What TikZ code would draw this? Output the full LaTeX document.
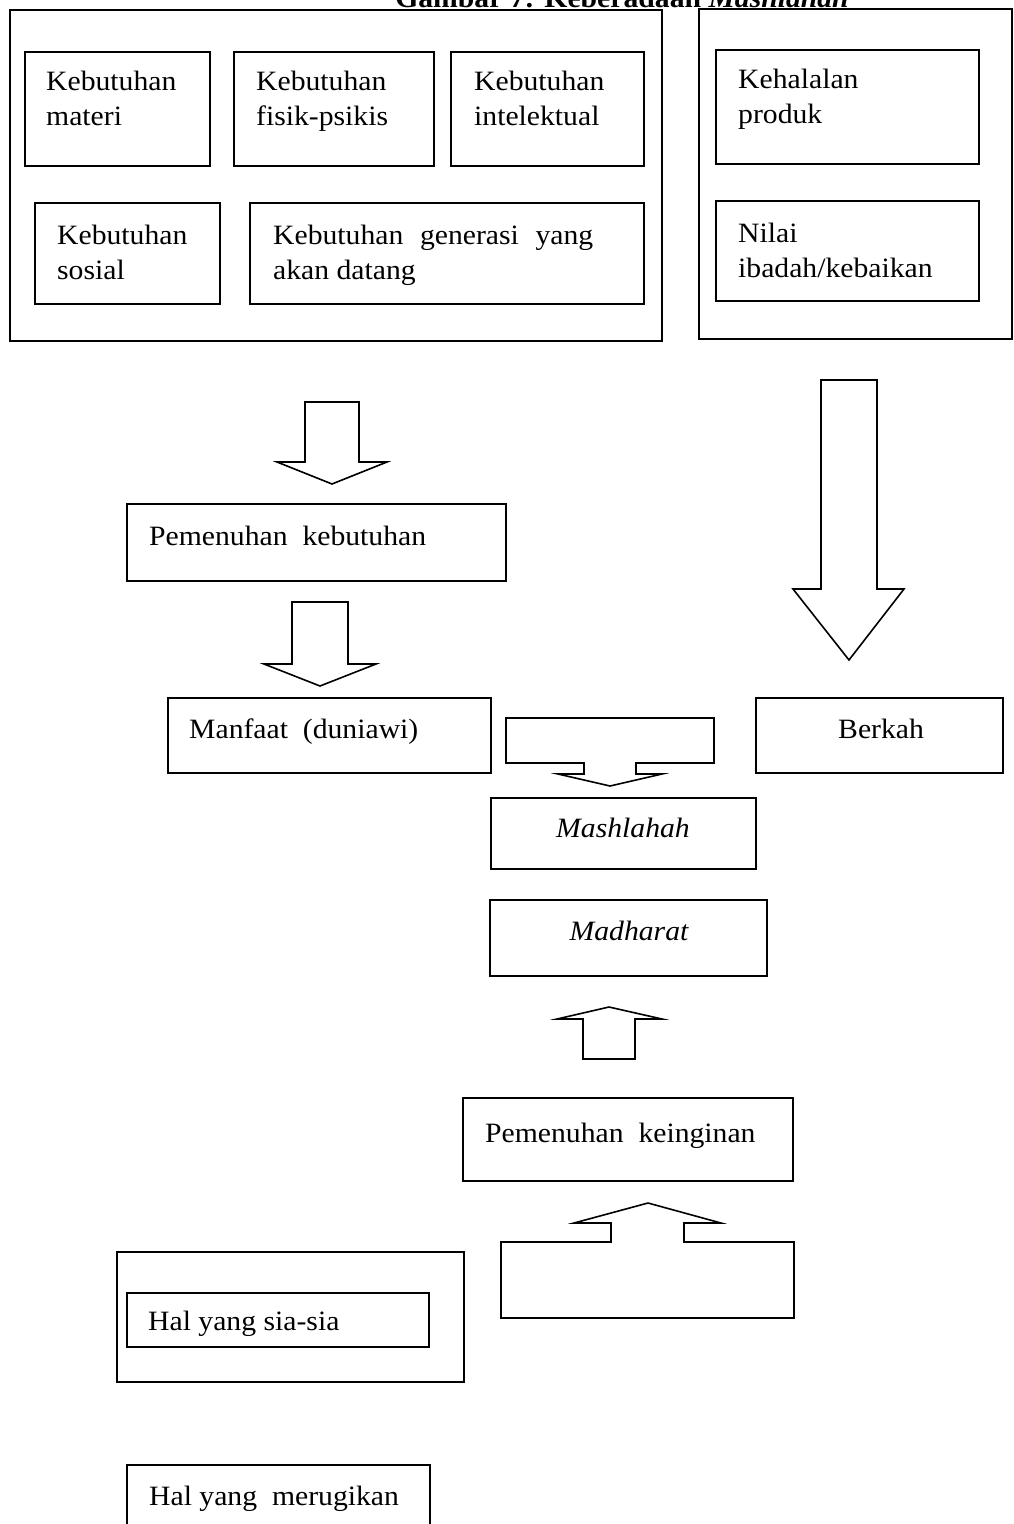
\documentclass[tikz,border=0pt]{standalone}
\usepackage{fontspec}
\setmainfont{Liberation Serif}[FakeStretch=1.06]
\newcommand\twoln[2]{\vtop{\hbox{#1}\hbox{#2}}}
\newcommand\mkbox[5]{\node[bx, anchor=north west, minimum width={(#4-#2)*1pt}, minimum height={(#5-#3)*1pt}] (#1) at (#2,#3) {};}
\begin{document}
\begin{tikzpicture}[x=1pt,y=-1pt,
  bx/.style={draw, line width=1.6pt, inner sep=0pt, outer sep=0pt},
  blk/.style={draw, line width=1.6pt, line join=miter, fill=white},
  txt/.style={anchor=base west, inner sep=0pt, font=\fontsize{28}{35.5}\selectfont},
  ctxt/.style={anchor=base, inner sep=0pt, font=\fontsize{28}{35.5}\selectfont\itshape}]
\useasboundingbox (0,0) rectangle (1013,1524);
\clip (0,0) rectangle (1013,1524);
% title (cut off at top)
\node[anchor=base, inner sep=0pt, font=\fontsize{28}{34}\selectfont\bfseries] (title) at (622,7) {Gambar 7: Keberadaan \textit{Mashlahah}};
% top left group
\mkbox{bigL}{10}{10}{662}{341}
\mkbox{bmat}{25}{52}{210}{166}
\mkbox{bfis}{234}{52}{434}{166}
\mkbox{bint}{451}{52}{644}{166}
\mkbox{bsos}{35}{203}{220}{304}
\mkbox{bgen}{250}{203}{644}{304}
\node[txt] (tmat) at (46,90) {\twoln{Kebutuhan}{materi}};
\node[txt] (tfis) at (256,90) {\twoln{Kebutuhan}{fisik-psikis}};
\node[txt] (tint) at (474,90) {\twoln{Kebutuhan}{intelektual}};
\node[txt] (tsos) at (57,244) {\twoln{Kebutuhan}{sosial}};
\node[txt] (tgen) at (273,244) {\twoln{\hbox to 320pt{Kebutuhan\hfill generasi\hfill yang}}{akan datang}};
% top right group
\mkbox{bigR}{699}{9}{1012}{339}
\mkbox{bhal}{716}{50}{979}{164}
\mkbox{bnil}{716}{201}{979}{301}
\node[txt] (thal) at (738,88) {\twoln{Kehalalan}{produk}};
\node[txt] (tnil) at (738,242) {\twoln{Nilai}{ibadah/kebaikan}};
% block arrows
\draw[blk] (305,402) -- (359,402) -- (359,462) -- (387,462) -- (332,484) -- (277,462) -- (305,462) -- cycle;
\draw[blk] (292,602) -- (348,602) -- (348,664) -- (376,664) -- (320,686) -- (264,664) -- (292,664) -- cycle;
\draw[blk] (821,380) -- (877,380) -- (877,589) -- (904,589) -- (849,660) -- (793,589) -- (821,589) -- cycle;
\draw[blk] (506,718) -- (714,718) -- (714,763) -- (636,763) -- (636,774) -- (662,774) -- (610,786) -- (558,774) -- (584,774) -- (584,763) -- (506,763) -- cycle;
\draw[blk] (583,1059) -- (635,1059) -- (635,1019) -- (662,1019) -- (609,1007) -- (557,1019) -- (583,1019) -- cycle;
\draw[blk] (501,1318) -- (794,1318) -- (794,1242) -- (684,1242) -- (684,1223) -- (721,1223) -- (648,1203) -- (574,1223) -- (611,1223) -- (611,1242) -- (501,1242) -- cycle;
% middle boxes
\mkbox{bpk}{127}{504}{506}{581}
\node[txt] (tpk) at (149,545) {Pemenuhan~~kebutuhan};
\mkbox{bman}{168}{698}{491}{773}
\node[txt] (tman) at (189,738) {Manfaat~~(duniawi)};
\mkbox{bber}{756}{698}{1003}{773}
\node[txt] (tber) at (838,738) {Berkah};
\mkbox{bmas}{491}{798}{756}{869}
\node[ctxt] (tmas) at (623,837) {Mashlahah};
\mkbox{bmad}{490}{900}{767}{976}
\node[ctxt] (tmad) at (629,940) {Madharat};
\mkbox{bpkn}{463}{1098}{793}{1181}
\node[txt] (tpkn) at (485,1142) {Pemenuhan~~keinginan};
% bottom
\mkbox{bsiaO}{117}{1252}{464}{1382}
\mkbox{bsia}{127}{1293}{429}{1347}
\node[txt] (tsia) at (148,1330) {Hal yang sia-sia};
\mkbox{brug}{127}{1465}{430}{1545}
\node[txt] (trug) at (149,1505) {Hal yang~~merugikan};
\end{tikzpicture}
\end{document}
